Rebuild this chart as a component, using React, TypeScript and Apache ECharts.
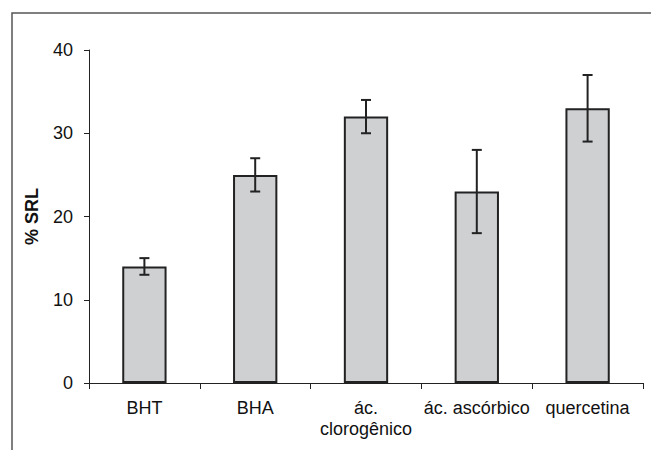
import React, { useEffect, useRef } from "react";
import * as echarts from "echarts";

const categories = ["BHT", "BHA", "ác.\nclorogênico", "ác. ascórbico", "quercetina"];
const values = [14, 25, 32, 23, 33];
const errLow = [13, 23, 30, 18, 29];
const errHigh = [15, 27, 34, 28, 37];
const yTicks = [0, 10, 20, 30, 40];

export default function App() {
  const ref = useRef<HTMLDivElement>(null);
  useEffect(() => {
    if (!ref.current) return;
    const chart = echarts.init(ref.current, null, { renderer: "svg" });
    const font = "'Liberation Sans', Arial, sans-serif";
    chart.setOption({
      animation: false,
      backgroundColor: "#ffffff",
      graphic: [
        {
          type: "rect",
          shape: { x: 12, y: 13, width: 800, height: 600 },
          style: { fill: "none", stroke: "#555555", lineWidth: 1.5 },
          silent: true,
          z: -1,
        },
      ],
      grid: { left: 89, right: 8, top: 50, bottom: 67 },
      xAxis: {
        type: "category",
        data: categories,
        axisLine: { lineStyle: { color: "#222", width: 1 } },
        axisTick: { show: true, length: 6, lineStyle: { color: "#222" } },
        axisLabel: {
          color: "#111",
          fontSize: 18,
          fontFamily: font,
          margin: 14,
          lineHeight: 21,
          interval: 0,
        },
      },
      yAxis: {
        type: "value",
        min: yTicks[0],
        max: yTicks[yTicks.length - 1],
        interval: 10,
        name: "% SRL",
        nameLocation: "middle",
        nameGap: 48,
        nameRotate: 90,
        nameTextStyle: { fontSize: 18, fontWeight: "bold", fontFamily: font, color: "#111" },
        axisLine: { show: true, lineStyle: { color: "#222", width: 1 } },
        axisTick: { show: true, length: 5, lineStyle: { color: "#222" } },
        axisLabel: { color: "#111", fontSize: 18, fontFamily: font, margin: 16 },
        splitLine: { show: false },
      },
      series: [
        {
          type: "bar",
          data: values,
          barWidth: "40%",
          itemStyle: { color: "#cfd0d2", borderColor: "#222", borderWidth: 2 },
        },
        {
          type: "custom",
          data: values.map((_, i) => [i, errLow[i], errHigh[i]]),
          z: 5,
          renderItem: (params: any, api: any) => {
            const x = api.value(0);
            const lo = api.coord([x, api.value(1)]);
            const hi = api.coord([x, api.value(2)]);
            const hw = 5;
            const style = { stroke: "#222", lineWidth: 2 };
            return {
              type: "group",
              children: [
                { type: "line", shape: { x1: lo[0], y1: lo[1], x2: hi[0], y2: hi[1] }, style },
                { type: "line", shape: { x1: lo[0] - hw, y1: lo[1], x2: lo[0] + hw, y2: lo[1] }, style },
                { type: "line", shape: { x1: hi[0] - hw, y1: hi[1], x2: hi[0] + hw, y2: hi[1] }, style },
              ],
            };
          },
        },
      ],
    });
    return () => chart.dispose();
  }, []);
  return <div ref={ref} style={{ width: 651, height: 450, position: "absolute", left: 0, top: 0 }} />;
}
